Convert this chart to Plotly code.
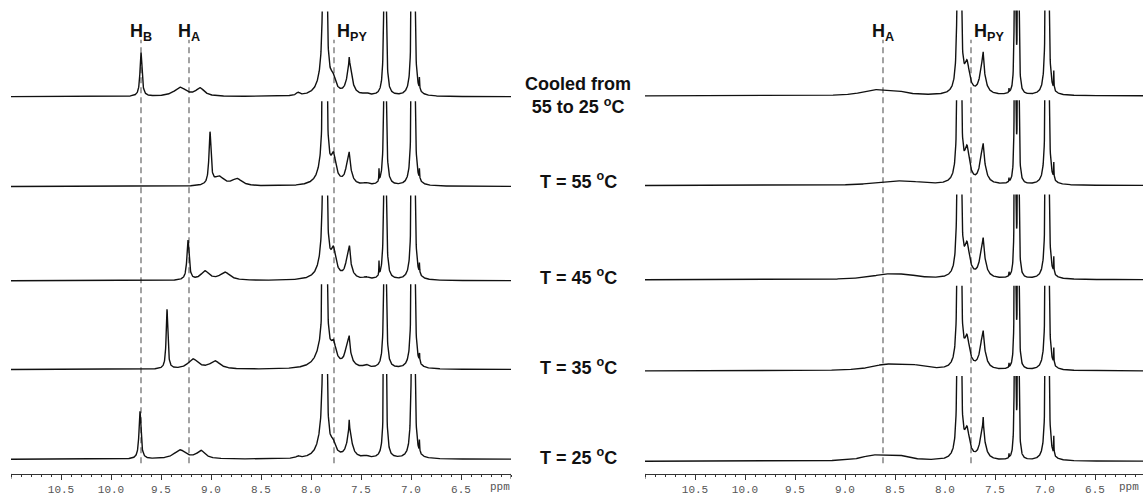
import numpy as np
import plotly.graph_objects as go

W, H = 1143, 496

# ---------------- axis / label data ----------------
major_ticks = [10.5, 10.0, 9.5, 9.0, 8.5, 8.0, 7.5, 7.0, 6.5]
major_text = ["10.5", "10.0", "9.5", "9.0", "8.5", "8.0", "7.5", "7.0", "6.5"]
condition_labels = ["Cooled from<br>55 to 25 <sup>o</sup>C", "T = 55 <sup>o</sup>C",
                    "T = 45 <sup>o</sup>C", "T = 35 <sup>o</sup>C", "T = 25 <sup>o</sup>C"]
left_marker_names = ["H<sub>B</sub>", "H<sub>A</sub>", "H<sub>PY</sub>"]
left_marker_ppm = [9.70, 9.22, 7.77]
right_marker_names = ["H<sub>A</sub>", "H<sub>PY</sub>"]
right_marker_ppm = [8.62, 7.74]

# ---------------- peak lists (ppm, height, half-width) ----------------
# left panel
L_cool_ppm = [9.70, 9.31, 9.11, 8.13, 7.872, 7.852, 7.87, 7.78, 7.615, 7.618, 7.45, 7.26, 6.985, 6.972, 6.915]
L_cool_h   = [44, 9, 8, 3, 300, 300, 28, 12, 30, 8, 2, 400, 250, 250, 14]
L_cool_w   = [0.012, 0.07, 0.05, 0.02, 0.007, 0.007, 0.05, 0.03, 0.03, 0.004, 0.03, 0.007, 0.008, 0.008, 0.002]

L_55_ppm = [9.01, 8.92, 8.74, 7.872, 7.852, 7.87, 7.775, 7.625, 7.618, 7.45, 7.32, 7.26, 6.985, 6.972, 6.915]
L_55_h   = [52, 9, 7, 300, 300, 25, 24, 28, 6, 2, 12, 400, 250, 250, 12]
L_55_w   = [0.012, 0.06, 0.06, 0.007, 0.007, 0.05, 0.03, 0.028, 0.004, 0.03, 0.002, 0.007, 0.008, 0.008, 0.002]

L_45_ppm = [9.23, 9.06, 8.86, 7.872, 7.852, 7.87, 7.775, 7.625, 7.615, 7.45, 7.32, 7.26, 6.985, 6.972, 6.915]
L_45_h   = [40, 9, 8, 300, 300, 25, 24, 28, 8, 2, 14, 400, 250, 250, 12]
L_45_w   = [0.013, 0.05, 0.06, 0.007, 0.007, 0.05, 0.03, 0.028, 0.004, 0.03, 0.002, 0.007, 0.008, 0.008, 0.002]

L_35_ppm = [9.44, 9.18, 8.96, 7.872, 7.852, 7.88, 7.775, 7.63, 7.618, 7.45, 7.26, 6.985, 6.972, 6.915]
L_35_h   = [60, 10, 8, 300, 300, 22, 18, 27, 8, 3, 400, 250, 250, 10]
L_35_w   = [0.01, 0.06, 0.06, 0.007, 0.007, 0.07, 0.03, 0.03, 0.004, 0.03, 0.007, 0.008, 0.008, 0.002]

L_25_ppm = [9.71, 9.31, 9.10, 8.13, 7.872, 7.852, 7.88, 7.78, 7.615, 7.618, 7.45, 7.26, 6.985, 6.972, 6.915]
L_25_h   = [48, 9, 8, 2, 300, 300, 26, 10, 26, 12, 2, 400, 250, 250, 14]
L_25_w   = [0.012, 0.07, 0.05, 0.02, 0.007, 0.007, 0.05, 0.03, 0.03, 0.004, 0.03, 0.007, 0.008, 0.008, 0.002]

# right panel
R_cool_ppm = [8.72, 8.50, 7.868, 7.848, 7.86, 7.78, 7.625, 7.618, 7.36, 7.30, 7.267, 6.985, 6.972, 6.912]
R_cool_h   = [5, 4, 300, 300, 15, 28, 32, 12, 4, 300, 300, 250, 250, 18]
R_cool_w   = [0.14, 0.14, 0.007, 0.007, 0.03, 0.03, 0.03, 0.004, 0.002, 0.005, 0.005, 0.008, 0.008, 0.002]

R_55_ppm = [8.55, 8.35, 7.868, 7.848, 7.86, 7.78, 7.625, 7.618, 7.36, 7.30, 7.267, 6.985, 6.972, 6.912]
R_55_h   = [3, 2.5, 300, 300, 15, 32, 34, 8, 4, 300, 300, 250, 250, 16]
R_55_w   = [0.2, 0.2, 0.007, 0.007, 0.03, 0.03, 0.03, 0.004, 0.002, 0.005, 0.005, 0.008, 0.008, 0.002]

R_45_ppm = [8.60, 8.40, 7.868, 7.848, 7.86, 7.78, 7.625, 7.618, 7.36, 7.30, 7.267, 6.985, 6.972, 6.912]
R_45_h   = [4, 3.5, 300, 300, 15, 30, 34, 8, 4, 300, 300, 250, 250, 16]
R_45_w   = [0.18, 0.18, 0.007, 0.007, 0.03, 0.03, 0.03, 0.004, 0.002, 0.005, 0.005, 0.008, 0.008, 0.002]

R_35_ppm = [8.60, 8.35, 7.868, 7.848, 7.86, 7.78, 7.625, 7.618, 7.36, 7.30, 7.267, 6.985, 6.972, 6.912]
R_35_h   = [5, 5, 300, 300, 15, 28, 32, 8, 4, 300, 300, 250, 250, 16]
R_35_w   = [0.18, 0.18, 0.007, 0.007, 0.03, 0.03, 0.03, 0.004, 0.002, 0.005, 0.005, 0.008, 0.008, 0.002]

R_25_ppm = [8.72, 8.48, 7.868, 7.848, 7.86, 7.78, 7.625, 7.618, 7.36, 7.30, 7.267, 6.985, 6.972, 6.912]
R_25_h   = [5, 5, 300, 300, 15, 27, 30, 14, 4, 300, 300, 250, 250, 18]
R_25_w   = [0.14, 0.14, 0.007, 0.007, 0.03, 0.03, 0.03, 0.004, 0.002, 0.005, 0.005, 0.008, 0.008, 0.002]

left_spectra = [(L_cool_ppm, L_cool_h, L_cool_w), (L_55_ppm, L_55_h, L_55_w),
                (L_45_ppm, L_45_h, L_45_w), (L_35_ppm, L_35_h, L_35_w), (L_25_ppm, L_25_h, L_25_w)]
right_spectra = [(R_cool_ppm, R_cool_h, R_cool_w), (R_55_ppm, R_55_h, R_55_w),
                 (R_45_ppm, R_45_h, R_45_w), (R_35_ppm, R_35_h, R_35_w), (R_25_ppm, R_25_h, R_25_w)]

# ---------------- layout constants (pixels) ----------------
left_baselines = [97.5, 188, 283, 372.5, 463]
right_baselines = [96.7, 187, 282, 374, 465]
AXIS_Y = 477.7
CLIP = 86
label_y = [96, 182, 279, 369, 460]

grid = np.linspace(11.0, 6.0, 2501)


def lineshape(ppm, h, w):
    c = np.asarray(ppm, float)[:, None]
    hh = np.asarray(h, float)[:, None]
    ww = np.asarray(w, float)[:, None]
    return (hh * ww ** 2 / ((grid[None, :] - c) ** 2 + ww ** 2)).sum(axis=0)


fig = go.Figure()
cols = [("x", left_spectra, left_baselines), ("x2", right_spectra, right_baselines)]
bottom_y = {}
k = 0
for xname, spectra, baselines in cols:
    for ri, (spec, b) in enumerate(zip(spectra, baselines)):
        k += 1
        yname = "y" if k == 1 else f"y{k}"
        lname = "yaxis" if k == 1 else f"yaxis{k}"
        top = b - CLIP
        bottom = AXIS_Y if ri == len(spectra) - 1 else b + 5
        fig.add_trace(go.Scatter(x=grid, y=lineshape(*spec), xaxis=xname, yaxis=yname,
                                 mode="lines", line=dict(color="#111111", width=1.4),
                                 hoverinfo="skip", showlegend=False))
        fig.layout[lname] = dict(domain=[1 - bottom / H, 1 - top / H], range=[-(bottom - b), CLIP],
                                 visible=False, anchor=xname, fixedrange=True)
        if ri == len(spectra) - 1:
            bottom_y[xname] = yname

minor_vals = [round(v, 1) for v in np.arange(6.0, 11.01, 0.1)]
axis_common = dict(
    tickmode="array", tickvals=major_ticks, ticktext=major_text,
    ticks="outside", ticklen=5, tickwidth=1, tickcolor="#333333",
    showline=True, linecolor="#333333", linewidth=1,
    showgrid=False, zeroline=False,
    tickfont=dict(family="Liberation Mono, Courier New, monospace", size=11, color="#555555"),
    minor=dict(tickmode="array", tickvals=minor_vals, ticks="outside", ticklen=2.5,
               tickcolor="#333333", tickwidth=1, showgrid=False),
    fixedrange=True,
)
fig.update_layout(
    xaxis=dict(domain=[11 / W, 511 / W], range=[11.0, 6.0], anchor=bottom_y["x"], **axis_common),
    xaxis2=dict(domain=[645 / W, 1.0], range=[11.0, 6.02], anchor=bottom_y["x2"], **axis_common),
)

# end caps of the ppm axes (taller ticks at the axis ends)
for xref, ends in (("x", [11.0, 6.0]), ("x2", [11.0])):
    for p in ends:
        fig.add_shape(type="line", xref=xref, yref="paper", x0=p, x1=p,
                      y0=1 - (AXIS_Y + 5) / H, y1=1 - AXIS_Y / H,
                      line=dict(color="#333333", width=1))

# dashed marker lines
dash_top = 1 - 40 / H
dash_bot = 1 - 467 / H
for xref, ppms in (("x", left_marker_ppm), ("x2", right_marker_ppm)):
    for p in ppms:
        fig.add_shape(type="line", xref=xref, yref="paper", x0=p, x1=p, y0=dash_bot, y1=dash_top,
                      line=dict(color="#999999", width=1.8, dash="6px,4px"), layer="below")

label_font = dict(family="Arial, Liberation Sans, sans-serif", size=18, color="#111111")
# peak labels
for xref, names, ppms in (("x", left_marker_names, left_marker_ppm), ("x2", right_marker_names, right_marker_ppm)):
    for name, p in zip(names, ppms):
        is_py = "PY" in name
        fig.add_annotation(x=p - (0.01 if is_py else 0.0), y=1 - 33 / H, xref=xref, yref="paper",
                           text=f"<b>{name}</b>", showarrow=False,
                           xanchor="left" if is_py else "center", yanchor="middle", font=label_font)

# condition labels
for txt, yy in zip(condition_labels, label_y):
    fig.add_annotation(x=578 / W, y=1 - yy / H, xref="paper", yref="paper", text=f"<b>{txt}</b>",
                       showarrow=False, xanchor="center", yanchor="middle", align="center",
                       font=label_font)

# ppm unit labels
for xref, p in (("x", 6.11), ("x2", 6.04)):
    fig.add_annotation(x=p, y=1 - 491 / H, xref=xref, yref="paper", text="ppm", showarrow=False,
                       xanchor="right" if xref == "x2" else "center", yanchor="middle",
                       font=dict(family="Liberation Mono, Courier New, monospace", size=11, color="#555555"))

fig.update_layout(width=W, height=H, autosize=False, margin=dict(l=0, r=0, t=0, b=0),
                  paper_bgcolor="white", plot_bgcolor="rgba(0,0,0,0)", showlegend=False)

fig.write_html("out.html", config={"displayModeBar": False},
               post_script="document.body.style.margin='0';document.body.style.overflow='hidden';")
